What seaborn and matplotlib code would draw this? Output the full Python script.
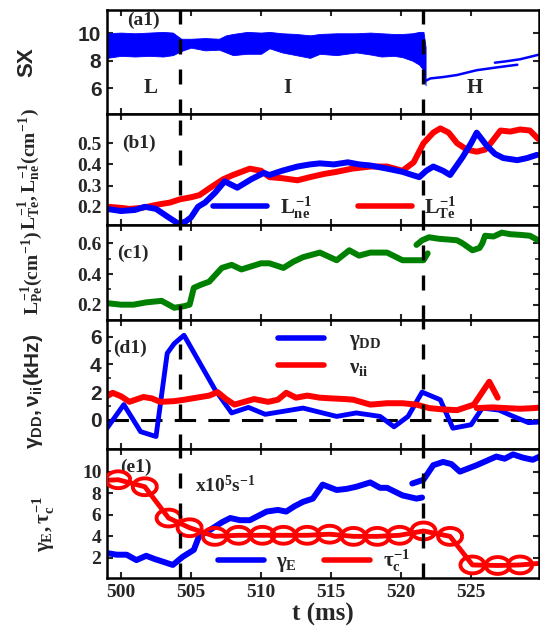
import numpy as np
import matplotlib
matplotlib.use('Agg')
import matplotlib.pyplot as plt
from matplotlib.lines import Line2D
import seaborn as sns

# ---- data ----
# (a1) SX signal: envelope of the dense L/I-mode trace, then the H-mode traces
sx_t = [499.0, 500.0, 501.0, 502.0, 503.0, 503.7, 504.3, 505.0, 506.0, 507.0, 507.5, 508.0, 509.0, 510.0,
        510.6, 511.5, 512.5, 513.5, 514.2, 515.4, 516.8, 517.8, 518.6, 519.5, 520.1, 520.8, 521.3, 521.6, 521.75]
sx_hi = [10.0, 10.05, 10.0, 10.05, 10.1, 10.05, 9.6, 9.6, 9.65, 9.6, 9.85, 9.95, 10.1, 10.05,
         10.1, 10.0, 9.95, 9.85, 9.95, 10.0, 10.0, 10.05, 10.0, 9.95, 9.95, 10.0, 10.1, 10.1, 9.0]
sx_lo = [8.2, 8.35, 8.3, 8.35, 8.3, 8.4, 8.7, 8.95, 8.75, 8.8, 8.6, 8.4, 8.5, 8.5,
         8.9, 8.6, 8.4, 8.2, 8.5, 8.4, 8.6, 8.45, 8.3, 8.35, 8.25, 8.0, 7.7, 7.3, 6.2]
sxh_t = [521.7, 522.1, 523.0, 524.0, 525.4, 526.8, 528.3]
sxh_v = [6.5, 6.7, 6.8, 6.95, 7.3, 7.5, 7.7]
sxh2_t = [526.7, 527.5, 528.5, 529.9]
sxh2_v = [7.85, 7.95, 8.1, 8.45]

# (b1) L_Te^-1 and L_ne^-1 (cm^-1)
lte_t = [499.0, 500.0, 500.6, 501.5, 502.6, 503.5, 504.2, 505.0, 505.6, 506.6, 507.3, 508.0, 509.2, 510.0,
         510.6, 511.5, 512.6, 513.5, 514.5, 515.4, 516.5, 517.8, 519.0, 520.1, 520.9, 521.6, 522.3, 522.8,
         523.4, 524.0, 524.7, 525.4, 526.0, 526.4, 527.1, 527.8, 528.5, 529.2, 529.8]
lte_v = [0.20, 0.195, 0.19, 0.195, 0.21, 0.22, 0.235, 0.245, 0.255, 0.30, 0.33, 0.35, 0.38, 0.37,
         0.34, 0.335, 0.325, 0.34, 0.355, 0.365, 0.38, 0.39, 0.39, 0.37, 0.41, 0.50, 0.55, 0.57,
         0.55, 0.50, 0.47, 0.46, 0.47, 0.50, 0.56, 0.555, 0.565, 0.56, 0.52]
lne_t = [499.0, 500.0, 501.0, 501.7, 502.5, 503.4, 504.1, 504.6, 505.0, 505.5, 506.0, 506.7, 507.4, 508.3,
         509.3, 510.2, 510.6, 511.5, 512.6, 513.5, 514.2, 515.2, 516.2, 517.0, 517.8, 519.0, 520.1, 520.8,
         521.3, 521.8, 522.3, 523.0, 523.5, 524.4, 525.0, 525.4, 526.1, 526.7, 527.3, 528.3, 529.0, 529.7]
lne_v = [0.19, 0.18, 0.185, 0.20, 0.19, 0.15, 0.12, 0.13, 0.15, 0.20, 0.22, 0.265, 0.32, 0.29,
         0.33, 0.36, 0.35, 0.37, 0.39, 0.40, 0.405, 0.40, 0.41, 0.40, 0.395, 0.38, 0.365, 0.35,
         0.34, 0.37, 0.39, 0.37, 0.35, 0.435, 0.50, 0.55, 0.49, 0.45, 0.43, 0.42, 0.43, 0.445]

# (c1) L_Pe^-1 (cm^-1)
lpe_t = [499.0, 500.0, 500.9, 501.8, 502.9, 503.8, 504.5, 504.9, 505.2, 505.7, 506.3, 506.8, 507.2, 507.9,
         508.6, 509.3, 510.0, 510.6, 511.6, 512.3, 513.0, 514.2, 515.4, 516.3, 517.0, 517.8, 519.0, 520.1,
         521.0, 521.6, 521.9]
lpe_v = [0.21, 0.20, 0.20, 0.215, 0.225, 0.18, 0.19, 0.20, 0.31, 0.33, 0.35, 0.40, 0.44, 0.46,
         0.43, 0.45, 0.47, 0.47, 0.44, 0.48, 0.51, 0.54, 0.49, 0.555, 0.52, 0.54, 0.54, 0.49,
         0.49, 0.49, 0.535]
lpe2_t = [521.1, 521.5, 522.0, 522.7, 523.4, 524.0, 524.4, 525.1, 525.6, 525.8, 526.0, 526.6, 527.2,
          527.8, 528.6, 529.2, 529.8]
lpe2_v = [0.59, 0.62, 0.64, 0.63, 0.625, 0.62, 0.60, 0.555, 0.57, 0.60, 0.65, 0.645, 0.67,
          0.66, 0.655, 0.65, 0.62]

# (d1) gamma_DD and nu_ii (kHz)
gdd_t = [499.0, 500.2, 501.4, 502.5, 503.3, 503.8, 504.5, 506.7, 507.9, 509.1, 510.3, 511.5, 513.0, 514.0,
         515.4, 516.8, 518.5, 519.5, 520.5, 521.5, 522.8, 523.7, 525.0, 525.8, 527.0, 527.9, 529.1, 530.0]
gdd_v = [-0.6, 1.1, -0.85, -1.2, 4.8, 5.5, 6.1, 2.2, 0.5, 0.9, 0.4, 0.6, 0.85, 0.6,
         0.25, 0.5, 0.25, -0.5, 0.25, 2.0, 1.45, -0.6, -0.35, 0.85, 0.7, 0.3, -0.2, -0.15]
nu_t = [499.0, 499.4, 500.0, 500.6, 501.6, 502.2, 502.8, 503.8, 504.5, 505.7, 506.3, 506.9, 507.5, 508.1,
        508.8, 509.5, 510.5, 511.2, 511.8, 512.5, 513.3, 514.2, 515.0, 516.0, 516.6, 517.8, 519.0, 520.1,
        521.1, 522.0, 523.0, 524.0, 525.2, 525.8, 526.3, 526.9]
nu_v = [1.7, 1.95, 1.7, 1.3, 1.65, 1.55, 1.3, 1.35, 1.45, 1.65, 1.75, 2.0, 1.5, 1.1,
        1.3, 1.5, 1.3, 1.45, 1.95, 1.6, 1.75, 1.6, 1.55, 1.5, 1.45, 1.1, 1.2, 1.2,
        1.1, 0.85, 0.75, 0.7, 1.1, 2.0, 2.75, 1.6]
nu2_t = [525.4, 526.5, 527.5, 528.5, 529.5, 530.0]
nu2_v = [0.85, 0.9, 0.85, 0.8, 0.85, 0.9]

# (e1) gamma_E and tau_c^-1 (x10^5 s^-1)
ge_t = [499.0, 499.7, 500.4, 501.1, 501.8, 502.4, 503.0, 503.7, 504.4, 505.2, 505.6, 506.0, 506.6, 507.2,
        507.8, 508.5, 509.2, 509.8, 510.4, 511.2, 511.8, 512.4, 513.0, 513.7, 514.4, 515.4, 516.1, 516.8,
        517.8, 518.5, 519.0, 520.1, 521.1, 521.5]
ge_v = [2.45, 2.3, 2.3, 1.8, 2.2, 1.9, 1.65, 1.35, 2.1, 2.75, 4.1, 4.3, 4.8, 5.3,
        5.7, 5.5, 5.5, 5.9, 6.3, 6.45, 6.3, 6.8, 7.2, 7.5, 8.8, 8.3, 8.4, 8.6,
        9.0, 8.5, 8.5, 7.8, 7.5, 7.6]
ge2_t = [520.8, 521.6, 522.3, 523.0, 523.6, 524.2, 524.8, 525.4, 526.1, 526.8, 527.4, 528.0, 528.7, 529.4, 529.9]
ge2_v = [8.9, 9.25, 10.6, 10.9, 10.7, 10.0, 10.3, 10.6, 11.0, 11.4, 11.2, 11.6, 11.3, 11.1, 11.4]
tc_t = [499.8, 501.7, 503.4, 504.9, 506.7, 508.4, 510.1, 511.6, 513.3, 514.9, 516.6, 518.3, 519.9,
        521.6, 523.5, 525.1, 526.9, 528.5]
tc_v = [9.25, 8.6, 5.7, 4.8, 4.0, 4.1, 4.1, 4.1, 4.1, 4.2, 4.0, 4.0, 4.1, 4.5, 4.0, 1.35, 1.3, 1.35]
tc_line_t = [499.0] + tc_t + [529.9]
tc_line_v = [9.2] + tc_v + [1.5]

t_LI = 504.2   # L -> I transition
t_IH = 521.6   # I -> H transition

# ---- style ----
sns.set_style('ticks')
plt.rcParams.update({
    'font.family': ['Liberation Serif', 'DejaVu Serif'],
    'font.weight': 'bold',
    'axes.labelweight': 'bold',
    'mathtext.fontset': 'custom',
    'mathtext.rm': 'Liberation Serif:bold',
    'mathtext.it': 'Liberation Serif:bold',
    'mathtext.bf': 'Liberation Serif:bold',
    'mathtext.sf': 'Liberation Sans:bold',
    'axes.linewidth': 1.8,
    'axes.edgecolor': 'black',
})

BLUE, RED, GREEN = '#0000ff', '#ff0000', '#008000'
SERIF = 'Liberation Serif'
SANS = 'Liberation Sans'

fig = plt.figure(figsize=(5.4, 6.37), dpi=100)
W, H = 540.0, 637.0
boxes = [(10, 114), (114, 225), (225, 320), (320, 449), (449, 578)]
axes = [fig.add_axes([107 / W, 1 - b / H, 432 / W, (b - t) / H]) for t, b in boxes]
ax_a, ax_b, ax_c, ax_d, ax_e = axes

for i, ax in enumerate(axes):
    ax.set_xlim(499.0, 529.85)
    ax.set_xticks([500, 505, 510, 515, 520, 525])
    ax.tick_params(direction='in', top=True, right=True, length=4, width=1.5,
                   labelsize=14, labelbottom=(i == 4), pad=4)
    ax.tick_params(which='minor', direction='in', right=True, length=3, width=1.2)
    for x0 in (t_LI, t_IH):
        ax.axvline(x0, color='black', lw=2.4, ls=(0, (4.5, 4.5)), zorder=5)

# (a1)
ax_a.fill_between(sx_t, sx_lo, sx_hi, color=BLUE, lw=0.6)
sns.lineplot(x=sxh_t, y=sxh_v, ax=ax_a, color=BLUE, lw=1.8, sort=False)
sns.lineplot(x=sxh2_t, y=sxh2_v, ax=ax_a, color=BLUE, lw=1.8, sort=False)
ax_a.set_ylim(4.1, 11.7)
ax_a.set_yticks([6, 8, 10])
ax_a.tick_params(axis='y', labelfontfamily=SANS, labelsize=15)
ax_a.set_ylabel('SX', fontfamily=SANS, fontsize=16, fontweight='bold')
ax_a.yaxis.set_label_coords(-0.162, 0.5)
ax_a.text(0.046, 0.90, '(a1)', transform=ax_a.transAxes, fontsize=14, va='center', ha='left')
for lab, xf in (('L', 0.10), ('I', 0.417), ('H', 0.852)):
    ax_a.text(xf, 0.25, lab, transform=ax_a.transAxes, fontsize=15, ha='center', va='center')

# (b1)
sns.lineplot(x=lte_t, y=lte_v, ax=ax_b, color=RED, lw=4.3, sort=False)
sns.lineplot(x=lne_t, y=lne_v, ax=ax_b, color=BLUE, lw=4.3, sort=False)
ax_b.set_ylim(0.114, 0.638)
ax_b.set_yticks([0.2, 0.3, 0.4, 0.5])
ax_b.set_ylabel(r'$L^{-1}_{Te},L^{-1}_{ne}(cm^{-1})$', fontsize=14)
ax_b.yaxis.set_label_coords(-0.15, 0.5)
ax_b.text(0.035, 0.74, '(b1)', transform=ax_b.transAxes, fontsize=14, va='center', ha='left')
ax_b.legend(handles=[Line2D([], [], color=BLUE, lw=4), Line2D([], [], color=RED, lw=4)],
            labels=[r'$L^{-1}_{ne}$', r'$L^{-1}_{Te}$'], ncol=2, frameon=False,
            loc='center left', bbox_to_anchor=(0.245, 0.16), borderaxespad=0, borderpad=0,
            handlelength=2.6, handletextpad=0.6, columnspacing=2.2, fontsize=15)

# (c1)
sns.lineplot(x=lpe_t, y=lpe_v, ax=ax_c, color=GREEN, lw=4.3, sort=False)
sns.lineplot(x=lpe2_t, y=lpe2_v, ax=ax_c, color=GREEN, lw=4.3, sort=False)
ax_c.set_ylim(0.10, 0.72)
ax_c.set_yticks([0.2, 0.4, 0.6])
ax_c.set_yticks([0.3, 0.5], minor=True)
ax_c.set_ylabel(r'$L^{-1}_{Pe}(cm^{-1})$', fontsize=14)
ax_c.yaxis.set_label_coords(-0.144, 0.5)
ax_c.text(0.023, 0.705, '(c1)', transform=ax_c.transAxes, fontsize=14, va='center', ha='left')

# (d1)
ax_d.axhline(0, color='black', lw=2.2, ls=(0, (7, 4)), zorder=1)
sns.lineplot(x=gdd_t, y=gdd_v, ax=ax_d, color=BLUE, lw=3.5, sort=False)
sns.lineplot(x=nu_t, y=nu_v, ax=ax_d, color=RED, lw=4.3, sort=False)
sns.lineplot(x=nu2_t, y=nu2_v, ax=ax_d, color=RED, lw=4.3, sort=False)
ax_d.set_ylim(-2.1, 7.2)
ax_d.set_yticks([0, 2, 4, 6])
ax_d.set_yticks([1, 3, 5], minor=True)
ax_d.tick_params(axis='y', labelfontfamily=SANS, labelsize=15)
ax_d.set_ylabel(r'$\mathsf{\gamma_{DD},\nu_{ii}(kHz)}$', fontsize=15)
ax_d.yaxis.set_label_coords(-0.144, 0.45)
ax_d.text(0.014, 0.78, '(d1)', transform=ax_d.transAxes, fontsize=14, va='center', ha='left')
ax_d.legend(handles=[Line2D([], [], color=BLUE, lw=4), Line2D([], [], color=RED, lw=4)],
            labels=[r'$\gamma_{DD}$', r'$\nu_{ii}$'], frameon=False,
            loc='upper left', bbox_to_anchor=(0.396, 0.92), borderaxespad=0, borderpad=0,
            handlelength=2.2, handletextpad=1.2, labelspacing=0.25, fontsize=15)

# (e1)
sns.lineplot(x=ge_t, y=ge_v, ax=ax_e, color=BLUE, lw=4.3, sort=False)
sns.lineplot(x=ge2_t, y=ge2_v, ax=ax_e, color=BLUE, lw=4.3, sort=False)
sns.lineplot(x=tc_line_t, y=tc_line_v, ax=ax_e, color=RED, lw=3.5, sort=False)
th = np.linspace(0, 2 * np.pi, 60)
ellipse = np.column_stack([np.cos(th), 0.7 * np.sin(th)])
sns.scatterplot(x=tc_t, y=tc_v, ax=ax_e, marker=ellipse, s=300, facecolors='none',
                edgecolor=RED, linewidth=2.8, zorder=4, legend=False)
ax_e.set_ylim(0.14, 12.1)
ax_e.set_yticks([2, 4, 6, 8, 10])
ax_e.set_ylabel(r'$\gamma_E,\tau^{-1}_c$', fontsize=15)
ax_e.yaxis.set_label_coords(-0.116, 0.42)
ax_e.text(0.03, 0.86, '(e1)', transform=ax_e.transAxes, fontsize=14, va='center', ha='left')
ax_e.text(0.204, 0.72, r'x10$^5$s$^{-1}$', transform=ax_e.transAxes, fontsize=14, va='center', ha='left')
ax_e.legend(handles=[Line2D([], [], color=BLUE, lw=4), Line2D([], [], color=RED, lw=4)],
            labels=[r'$\gamma_E$', r'$\tau^{-1}_c$'], ncol=2, frameon=False,
            loc='center left', bbox_to_anchor=(0.257, 0.13), borderaxespad=0, borderpad=0,
            handlelength=2.2, handletextpad=0.6, columnspacing=1.3, fontsize=15)
ax_e.set_xlabel('t (ms)', fontsize=18, fontweight='bold', labelpad=2)

for ax in axes:
    for lbl in ax.get_xticklabels() + ax.get_yticklabels():
        lbl.set_fontweight('bold')

fig.savefig('out.png', dpi=100)
